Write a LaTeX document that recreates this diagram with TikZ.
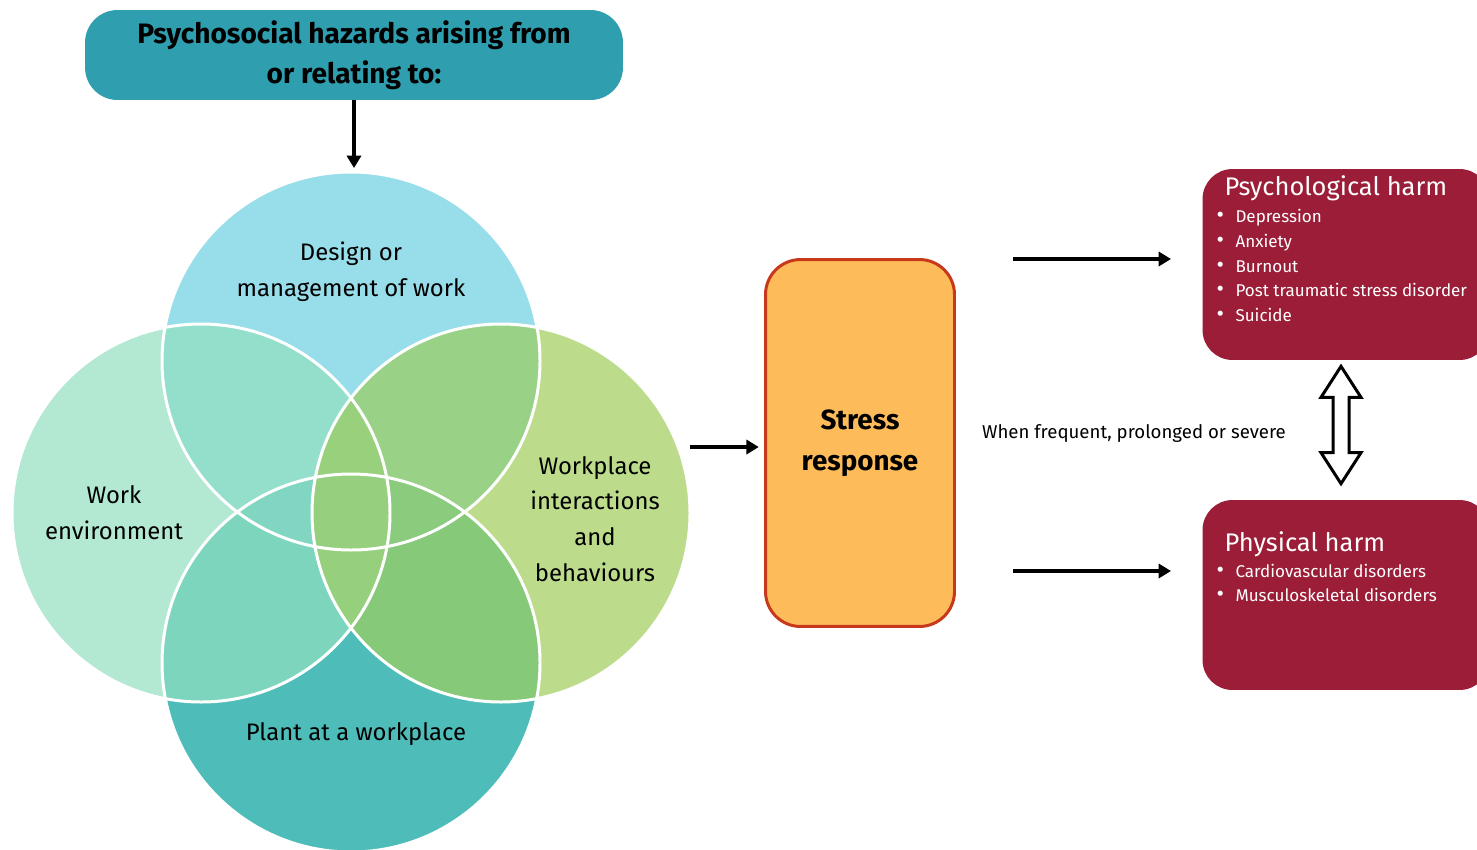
\documentclass[tikz,border=0pt]{standalone}
\usepackage{fontspec}
\setmainfont{Fira Sans}
\usetikzlibrary{positioning}
\usetikzlibrary{calc}
\usetikzlibrary{arrows.meta}

\definecolor{hazardteal}{HTML}{2F9FB0}
\definecolor{stressfill}{HTML}{FDBB59}
\definecolor{stressline}{HTML}{C8381B}
\definecolor{harmred}{HTML}{9B1D37}
\definecolor{vT}{HTML}{98DEEA}
\definecolor{vL}{HTML}{B3E8D3}
\definecolor{vR}{HTML}{BCDC8C}
\definecolor{vB}{HTML}{4EBDB9}
\definecolor{vTL}{HTML}{93DFCB}
\definecolor{vTR}{HTML}{99D287}
\definecolor{vLB}{HTML}{7ED5BD}
\definecolor{vRB}{HTML}{86C978}
\definecolor{vLR}{HTML}{97CF7C}
\definecolor{vLTB}{HTML}{80D6C0}
\definecolor{vRTB}{HTML}{8ACB7D}
\definecolor{vLRT}{HTML}{99D07C}
\definecolor{vLRB}{HTML}{97D07C}
\definecolor{vAll}{HTML}{96CF7D}

\tikzstyle{hazard}=[rectangle, rounded corners=0.65cm, fill=hazardteal, minimum width=10.76cm, minimum height=1.8cm, align=center, font=\fontsize{16}{22.7}\selectfont\bfseries]
\tikzstyle{stressbox}=[rectangle, rounded corners=0.7cm, fill=stressfill, draw=stressline, line width=1.7pt, minimum width=3.78cm, minimum height=7.34cm, align=center, font=\fontsize{15.8}{23.2}\selectfont\bfseries]
\tikzstyle{harm}=[rectangle, rounded corners=0.6cm, fill=harmred, minimum width=5.74cm]
\tikzstyle{harmhead}=[text=white, inner sep=0pt, font=\fontsize{14.5}{17}\selectfont]
\tikzstyle{harmitem}=[text=white, inner sep=0pt, font=\fontsize{9.7}{12}\selectfont]
\tikzstyle{venntext}=[align=center, font=\fontsize{13.6}{20.4}\selectfont]
\tikzstyle{link}=[-{Triangle[length=7pt, width=8pt]}, line width=1.8pt]

\newcommand{\circT}{(cT) circle[radius=189]}
\newcommand{\circL}{(cL) circle[radius=189]}
\newcommand{\circR}{(cR) circle[radius=189]}
\newcommand{\circB}{(cB) circle[radius=189]}
\newcommand{\harmdot}{\makebox[10.8pt][l]{\fontsize{13}{12}\selectfont\textbullet}}

\begin{document}
\begin{tikzpicture}[x=0.02cm, y=-0.02cm]
    \useasboundingbox (0,0) rectangle (1477,849);

    % venn centres
    \coordinate (cT) at (351,361);
    \coordinate (cL) at (201,513);
    \coordinate (cR) at (501,513);
    \coordinate (cB) at (351,663);

    % single circles
    \fill[vT] \circT;
    \fill[vL] \circL;
    \fill[vR] \circR;
    \fill[vB] \circB;

    % pairs
    \begin{scope}\clip \circT; \fill[vTL] \circL; \end{scope}
    \begin{scope}\clip \circT; \fill[vTR] \circR; \end{scope}
    \begin{scope}\clip \circB; \fill[vLB] \circL; \end{scope}
    \begin{scope}\clip \circB; \fill[vRB] \circR; \end{scope}
    \begin{scope}\clip \circL; \fill[vLR] \circR; \end{scope}

    % triples
    \begin{scope}\clip \circT; \clip \circB; \fill[vLTB] \circL; \end{scope}
    \begin{scope}\clip \circT; \clip \circB; \fill[vRTB] \circR; \end{scope}
    \begin{scope}\clip \circL; \clip \circR; \fill[vLRT] \circT; \end{scope}
    \begin{scope}\clip \circL; \clip \circR; \fill[vLRB] \circB; \end{scope}

    % all four
    \begin{scope}\clip \circL; \clip \circR; \clip \circT; \fill[vAll] \circB; \end{scope}

    \draw[white, line width=1.7pt] \circT \circL \circR \circB;

    \node[venntext] (design)   at (351,272) {Design or\\management of work};
    \node[venntext] (workenv)  at (114,513) {Work\\environment};
    \node[venntext] (behave)   at (595,519) {Workplace\\interactions\\and\\behaviours};
    \node[venntext] (plant)    at (356,734) {Plant at a workplace};

    \node[hazard]    (hazards) at (354,55)  {Psychosocial hazards arising from\\or relating to:};
    \node[stressbox] (stress)  at (860,443) {Stress\\response};

    \node[harm, minimum height=3.82cm] (psych) at (1346,264.5) {};
    \node[harm, minimum height=3.80cm] (phys)  at (1346,595)   {};

    \node[harmhead, anchor=base west] (psychHead) at ($(psych.north west)+(22,27)$) {Psychological harm};
    \foreach \item [count=\i] in {Depression, Anxiety, Burnout, Post traumatic stress disorder, Suicide}
        \node[harmitem, anchor=base west] (psych\i) at ($(psych.north west)+(14,29+24.8*\i)$) {\harmdot\item};

    \node[harmhead, anchor=base west] (physHead) at ($(phys.north west)+(22,52)$) {Physical harm};
    \foreach \item [count=\i] in {Cardiovascular disorders, Musculoskeletal disorders}
        \node[harmitem, anchor=base west] (phys\i) at ($(phys.north west)+(14,54+24*\i)$) {\harmdot\item};

    \node[font=\fontsize{10.6}{12}\selectfont] (when) at (1134,433) {When frequent, prolonged or severe};

    % connectors
    \coordinate (vennTop)   at (354,168);
    \coordinate (vennRight) at (690,447);
    \coordinate (toPsychA)  at (1013,259);
    \coordinate (toPsychB)  at (1171,259);
    \coordinate (toPhysA)   at (1013,571);
    \coordinate (toPhysB)   at (1171,571);

    \draw[link] (hazards.south) -- (vennTop);
    \draw[link] (vennRight) -- (stress.west |- vennRight) [shorten >=3pt];
    \draw[link] (toPsychA) -- (toPsychB);
    \draw[link] (toPhysA) -- (toPhysB);

    % hollow double arrow between the harms
    \coordinate (dTop) at ($(psych.south)+(-5,6)$);
    \coordinate (dBot) at ($(phys.north)+(-5,-16)$);
    \draw[line width=1.7pt, fill=white, line join=miter]
        (dTop) -- ++(20,31) -- ++(-12,0) -- ($(dBot)+(8,-31)$) -- ++(12,0) -- (dBot)
        -- ++(-20,-31) -- ++(12,0) -- ($(dTop)+(-8,31)$) -- ++(-12,0) -- cycle;
\end{tikzpicture}
\end{document}
